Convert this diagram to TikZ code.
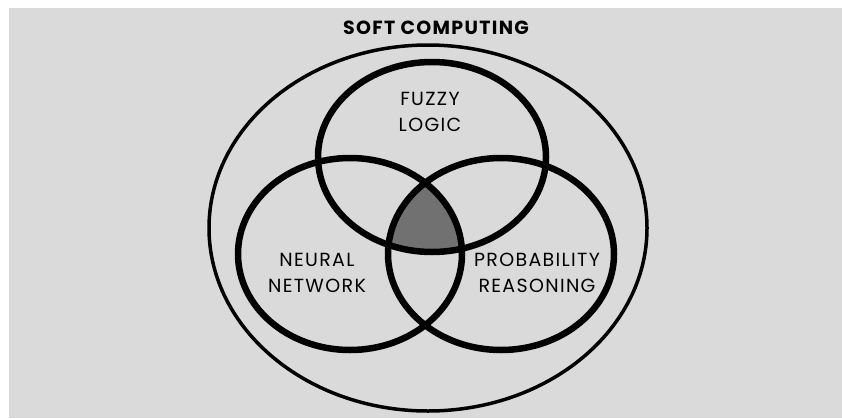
\documentclass[tikz,border=0pt]{standalone}
\usepackage{fontspec}
\setmainfont{Poppins}[LetterSpace=7]
\usepackage{tikz}
\usetikzlibrary{positioning, calc}
\definecolor{bggray}{HTML}{DADADA}
\definecolor{midgray}{HTML}{717171}

\begin{document}
\begin{tikzpicture}[x=1pt, y=-1pt,
    lbl/.style={align=center, inner sep=0pt, font=\fontsize{19}{26}\selectfont},
    ring/.style={line width=6.5pt, black}]
\useasboundingbox (0,0) rectangle (842,418);
\fill[white] (0,0) rectangle (842,418);
\fill[bggray] (9,8) rectangle (842,418);

\node[inner sep=0pt, font=\bfseries\fontsize{19}{22}\selectfont] (title) at (436, 28) {SOFT COMPUTING};

\begin{scope}
\clip (432,157) ellipse [x radius=114pt, y radius=95pt];
\clip (350,254) ellipse [x radius=112pt, y radius=96pt];
\fill[midgray] (501,254) ellipse [x radius=113pt, y radius=96pt];
\end{scope}

\draw[line width=3.5pt] (428,228) ellipse [x radius=219pt, y radius=183pt];
\draw[ring] (432,157) ellipse [x radius=114pt, y radius=95pt];
\draw[ring] (350,254) ellipse [x radius=112pt, y radius=96pt];
\draw[ring] (501,254) ellipse [x radius=113pt, y radius=96pt];

\node[lbl] (fuzzy) at (430, 112) {FUZZY\\LOGIC};
\node[lbl] (neural) at (317, 273) {NEURAL\\NETWORK};
\node[lbl] (prob) at (537, 273) {PROBABILITY\\REASONING};

\end{tikzpicture}
\end{document}
